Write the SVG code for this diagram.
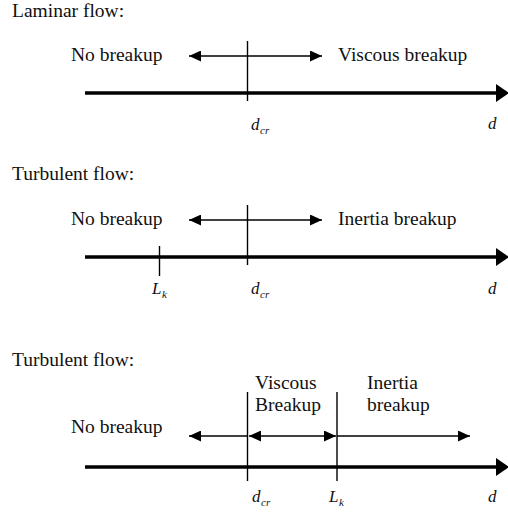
<svg xmlns="http://www.w3.org/2000/svg" width="508" height="513" viewBox="0 0 508 513">
<defs>
<style>
.t{font-size:19.5px;fill:#111}
.v{font-style:italic;font-size:17px;fill:#111}
.s{font-style:italic;font-size:11px;fill:#111}
.ax{stroke:#000;stroke-width:3.5;fill:none}
.tick{stroke:#000;stroke-width:1.4;fill:none}
.ar{stroke:#000;stroke-width:1.3;fill:none}
</style>
<marker id="big" markerUnits="userSpaceOnUse" markerWidth="14" markerHeight="18" refX="0" refY="9" orient="auto"><path d="M0,0 L13,9 L0,18 z" fill="#000"/></marker>
<marker id="sm" markerUnits="userSpaceOnUse" markerWidth="12" markerHeight="11" refX="12" refY="5.5" orient="auto-start-reverse"><path d="M0,0 L12,5.5 L0,11 z" fill="#000"/></marker>
</defs>
<rect width="508" height="513" fill="#fff"/>
<g font-family="Liberation Serif, DejaVu Serif, serif">
<g id="panel1">
<text class="t" x="12" y="17">Laminar flow:</text>
<text class="t" x="71" y="61">No breakup</text>
<text class="t" x="338" y="61">Viscous breakup</text>
<text class="v" x="251" y="130">d</text><text class="s" x="260" y="134">cr</text>
<text class="v" x="488" y="129">d</text>
</g>
<g id="panel2">
<text class="t" x="12" y="180">Turbulent flow:</text>
<text class="t" x="71" y="225">No breakup</text>
<text class="t" x="338" y="225">Inertia breakup</text>
<text class="v" x="152" y="294">L</text><text class="s" x="162" y="298">k</text>
<text class="v" x="251" y="294">d</text><text class="s" x="260" y="298">cr</text>
<text class="v" x="488" y="294">d</text>
</g>
<g id="panel3">
<text class="t" x="12" y="366">Turbulent flow:</text>
<text class="t" x="255" y="389">Viscous</text>
<text class="t" x="255" y="411">Breakup</text>
<text class="t" x="367" y="389">Inertia</text>
<text class="t" x="367" y="411">breakup</text>
<text class="t" x="71" y="433">No breakup</text>
<text class="v" x="252" y="502">d</text><text class="s" x="261" y="506">cr</text>
<text class="v" x="329" y="502">L</text><text class="s" x="339" y="506">k</text>
<text class="v" x="488" y="502">d</text>
</g>
</g>
<g id="connectors">
<line class="ax" x1="85" y1="93" x2="496" y2="93" marker-end="url(#big)"/>
<line class="tick" x1="247.5" y1="41" x2="247.5" y2="101"/>
<line class="ar" x1="189" y1="56" x2="322" y2="56" marker-start="url(#sm)" marker-end="url(#sm)"/>

<line class="ax" x1="85" y1="257" x2="496" y2="257" marker-end="url(#big)"/>
<line class="tick" x1="247.5" y1="205" x2="247.5" y2="265"/>
<line class="tick" x1="159.5" y1="246" x2="159.5" y2="276"/>
<line class="ar" x1="189" y1="220" x2="322" y2="220" marker-start="url(#sm)" marker-end="url(#sm)"/>

<line class="ax" x1="85" y1="467" x2="496" y2="467" marker-end="url(#big)"/>
<line class="tick" x1="247.5" y1="392" x2="247.5" y2="481"/>
<line class="tick" x1="337" y1="392" x2="337" y2="481"/>
<line class="ar" x1="247" y1="436" x2="189" y2="436" marker-end="url(#sm)"/>
<line class="ar" x1="249" y1="436" x2="336" y2="436" marker-start="url(#sm)" marker-end="url(#sm)"/>
<line class="ar" x1="337" y1="436" x2="470" y2="436" marker-end="url(#sm)"/>
</g>
</svg>
